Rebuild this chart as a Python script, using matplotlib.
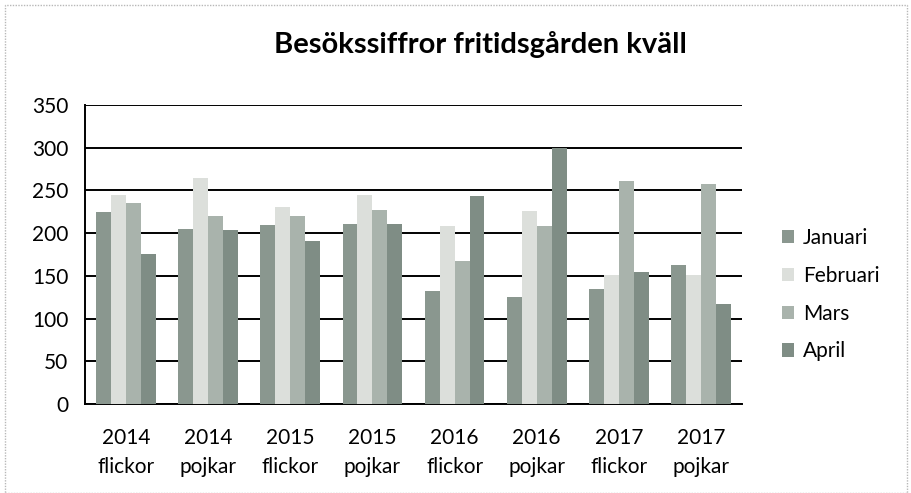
import numpy as np
import matplotlib.pyplot as plt
from matplotlib.patches import Rectangle

# data
groups = ['2014\nflickor', '2014\npojkar', '2015\nflickor', '2015\npojkar',
          '2016\nflickor', '2016\npojkar', '2017\nflickor', '2017\npojkar']
months = ['Januari', 'Februari', 'Mars', 'April']
januari = [224, 205, 209, 210, 132, 125, 134, 163]
februari = [244, 264, 231, 245, 208, 226, 151, 151]
mars = [235, 220, 220, 227, 167, 208, 261, 257]
april = [176, 204, 191, 210, 243, 299, 154, 117]
colors = ['#8a978f', '#dcdfdb', '#a9b3ac', '#7f8d85']

plt.rcParams['font.family'] = ['Lato', 'DejaVu Sans']

fig = plt.figure(figsize=(9.11, 4.93), dpi=100)
ax = fig.add_axes([0.0933, 0.1805, 0.7212, 0.607])

x = np.arange(len(groups))
w = 0.182
series = [januari, februari, mars, april]
for i, (name, vals) in enumerate(zip(months, series)):
    ax.bar(x + (i - 1.5) * w, vals, w, color=colors[i], label=name, zorder=3)

ax.set_ylim(0, 350)
ax.set_xlim(-0.5, len(groups) - 0.5)
ax.set_yticks(range(0, 351, 50))
ax.yaxis.grid(True, color='black', linewidth=1.4, zorder=0)
ax.set_xticks(x)
ax.set_xticklabels(groups, fontsize=15, linespacing=1.6)
ax.tick_params(axis='y', labelsize=15, length=0, pad=12)
ax.tick_params(axis='x', length=0, pad=17)
for s in ['top', 'right']:
    ax.spines[s].set_visible(False)
ax.spines['left'].set_linewidth(1.4)
ax.spines['bottom'].set_linewidth(1.4)

fig.text(0.527, 0.91, 'Besökssiffror fritidsgården kväll', ha='center',
         va='center', fontsize=21, fontweight='bold')

ax.legend(loc='center left', bbox_to_anchor=(1.045, 0.365), frameon=False,
          fontsize=15, handlelength=0.6, handleheight=0.6, handletextpad=0.4,
          labelspacing=0.85, borderpad=0)

fig.patches.append(Rectangle((0.006, 0.0), 0.99, 0.99, transform=fig.transFigure,
                             fill=False, edgecolor='#b8b8b8', linewidth=1,
                             linestyle=(0, (1, 1))))

fig.savefig('out.png', dpi=100)
